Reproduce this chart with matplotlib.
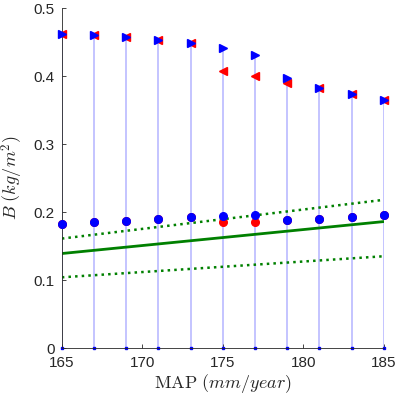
import numpy as np
import matplotlib
matplotlib.use("Agg")
import matplotlib.pyplot as plt

plt.rcParams['font.family'] = ['Liberation Sans', 'DejaVu Sans']
plt.rcParams['mathtext.fontset'] = 'cm'

# MAP values (mm/year)
map_vals = [165, 167, 169, 171, 173, 175, 177, 179, 181, 183, 185]

# upper markers
upper_red = [0.462, 0.460, 0.457, 0.453, 0.448, 0.407, 0.400, 0.390, 0.382, 0.373, 0.365]
upper_blue = [0.462, 0.460, 0.457, 0.453, 0.448, 0.442, 0.431, 0.397, 0.382, 0.373, 0.365]

# lower markers
lower_red = [0.183, 0.185, 0.1875, 0.190, 0.192, 0.185, 0.186, 0.188, 0.190, 0.193, 0.196]
lower_blue = [0.183, 0.185, 0.1875, 0.190, 0.192, 0.1935, 0.195, 0.189, 0.190, 0.193, 0.196]

# green fit line and bounds (endpoints)
fit_x = [165, 185]
fit_mid = [0.139, 0.186]
fit_hi = [0.161, 0.218]
fit_lo = [0.104, 0.135]

fig = plt.figure(figsize=(3.99, 3.98), dpi=100)
ax = fig.add_axes([0.155, 0.1256, 0.807, 0.854])

# stems
ax.vlines(map_vals, 0, upper_blue, color=(0.55, 0.55, 1.0), alpha=0.6, lw=1.2, zorder=1)
ax.plot(map_vals, np.zeros(len(map_vals)), 's', color='blue', ms=2, zorder=2, clip_on=False)

ax.plot(fit_x, fit_mid, '-', color='green', lw=2)
ax.plot(fit_x, fit_hi, ':', color='green', lw=1.8)
ax.plot(fit_x, fit_lo, ':', color='green', lw=1.8)

ax.plot(map_vals, lower_red, 'o', color='red', ms=5.5, zorder=3, clip_on=False)
ax.plot(map_vals, lower_blue, 'o', color='blue', ms=5.5, zorder=4, clip_on=False)
ax.plot(map_vals, upper_red, '<', color='red', ms=5.5, zorder=3, clip_on=False)
ax.plot(map_vals, upper_blue, '>', color='blue', ms=5.5, zorder=4, clip_on=False)

ax.set_xlim(165, 185)
ax.set_ylim(0, 0.5)
ax.set_xticks([165, 170, 175, 180, 185])
ax.set_yticks([0, 0.1, 0.2, 0.3, 0.4, 0.5])
ax.set_yticklabels(['0', '0.1', '0.2', '0.3', '0.4', '0.5'])
ax.spines['top'].set_visible(False)
ax.spines['right'].set_visible(False)
for s in ['left', 'bottom']:
    ax.spines[s].set_color('#262626')
    ax.spines[s].set_linewidth(0.6)
ax.tick_params(direction='in', length=3, width=0.6, colors='#262626', labelsize=11)
ax.tick_params(axis='x', pad=6)
ax.tick_params(axis='y', pad=5)

ax.set_xlabel(r'$\mathrm{MAP}\ (mm/year)$', fontsize=13, color='#262626', labelpad=1)
ax.set_ylabel(r'$B\ (kg/m^2)$', fontsize=13, color='#262626', labelpad=6)

fig.savefig('out.png', dpi=100)
